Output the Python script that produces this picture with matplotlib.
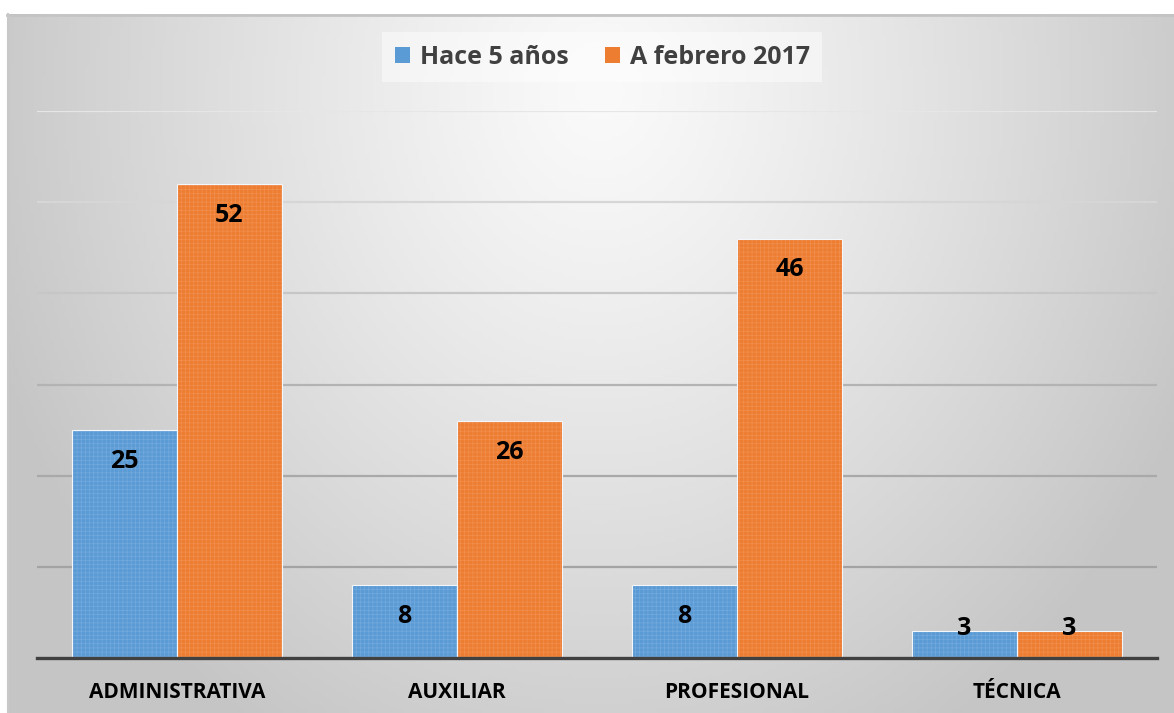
import numpy as np
import matplotlib
matplotlib.use("Agg")
import matplotlib.pyplot as plt

categories = ["ADMINISTRATIVA", "AUXILIAR", "PROFESIONAL", "TÉCNICA"]
hace_5 = [25, 8, 8, 3]
feb_2017 = [52, 26, 46, 3]
series_names = ["Hace 5 años", "A febrero 2017"]
yticks = [10, 20, 30, 40, 50, 60]

plt.rcParams['font.family'] = ['Open Sans', 'DejaVu Sans']
plt.rcParams['hatch.linewidth'] = 0.5

W, H = 1174, 713
fig = plt.figure(figsize=(W / 100, H / 100), dpi=100)

# gradient background of the chart area
bg = fig.add_axes([7 / W, 0, 1 - 7 / W, (H - 14) / H])
xx, yy = np.meshgrid(np.linspace(7, W, 300), np.linspace(14, H, 200))
t = np.sqrt(((xx - 600) / 600) ** 2 + ((yy - 90) / 700) ** 2)
g = np.clip(250 - 48 * t ** 1.2, 197, 250) / 255
bg.imshow(np.dstack([g, g, g]), aspect='auto', extent=[0, 1, 0, 1])
bg.set_xlim(0, 1)
bg.set_ylim(0, 1)
bg.axis('off')
bg.plot([0, 1], [0.999, 0.999], color='#c4c4c4', lw=2, transform=bg.transAxes, clip_on=False)
bg.plot([0.001, 0.001], [0, 1], color='#c8c8c8', lw=1.5, transform=bg.transAxes, clip_on=False)

ax = fig.add_axes([37 / W, 55 / H, 1120 / W, (602 - 55) / H])
ax.patch.set_alpha(0)

grid_colors = ['#a3a3a3', '#a9a9a9', '#b3b3b3', '#c6c6c6', '#d6d6d6', '#e6e6e6']
for v, c in zip(yticks, grid_colors):
    ax.axhline(v, color=c, lw=1.6, zorder=1)

x = np.arange(len(categories))
w = 0.375
colors = ['#5b9bd5', '#ed7d31']
hatch_colors = ['#73a9dc', '#f08f4e']
for i, (vals, col, hc, name) in enumerate(zip([hace_5, feb_2017], colors, hatch_colors, series_names)):
    xs = x + (i - 0.5) * w
    ax.bar(xs, vals, width=w, color=col, edgecolor='none', zorder=2, label=name)
    ax.bar(xs, vals, width=w, fill=False, hatch='++++', edgecolor=hc, lw=0, zorder=3)
    ax.bar(xs, vals, width=w, fill=False, edgecolor='#f3f6fa', lw=0.8, zorder=4)
    for xv, v in zip(xs, vals):
        off = -22.5 if v > 7 else 1.5
        ax.annotate(str(v), (xv, v), xytext=(0, off), textcoords='offset points',
                    ha='center', va='center', fontsize=18, fontweight='bold',
                    color='black', zorder=6)

ax.set_xlim(-0.5, len(categories) - 0.5)
ax.set_ylim(0, 60)
ax.set_yticks([])
ax.set_xticks(x)
ax.set_xticklabels(categories, fontsize=15, fontweight='bold', color='black')
ax.tick_params(axis='x', length=0, pad=17)
for s in ['top', 'left', 'right']:
    ax.spines[s].set_visible(False)
ax.spines['bottom'].set_color('#404040')
ax.spines['bottom'].set_linewidth(2.4)
ax.spines['bottom'].set_zorder(5)

handles, labels = ax.get_legend_handles_labels()
leg = fig.legend(handles, labels, loc='center', bbox_to_anchor=(602 / W, 1 - 57 / H),
                 ncol=2, frameon=True, fancybox=False, fontsize=18,
                 handlelength=0.6, handleheight=0.6, handletextpad=0.4,
                 columnspacing=1.45, borderpad=0.5, borderaxespad=0)
leg.get_frame().set_facecolor('white')
leg.get_frame().set_alpha(0.45)
leg.get_frame().set_edgecolor('none')
for txt in leg.get_texts():
    txt.set_color('#404040')
    txt.set_fontweight('bold')

fig.savefig('out.png', dpi=100)
